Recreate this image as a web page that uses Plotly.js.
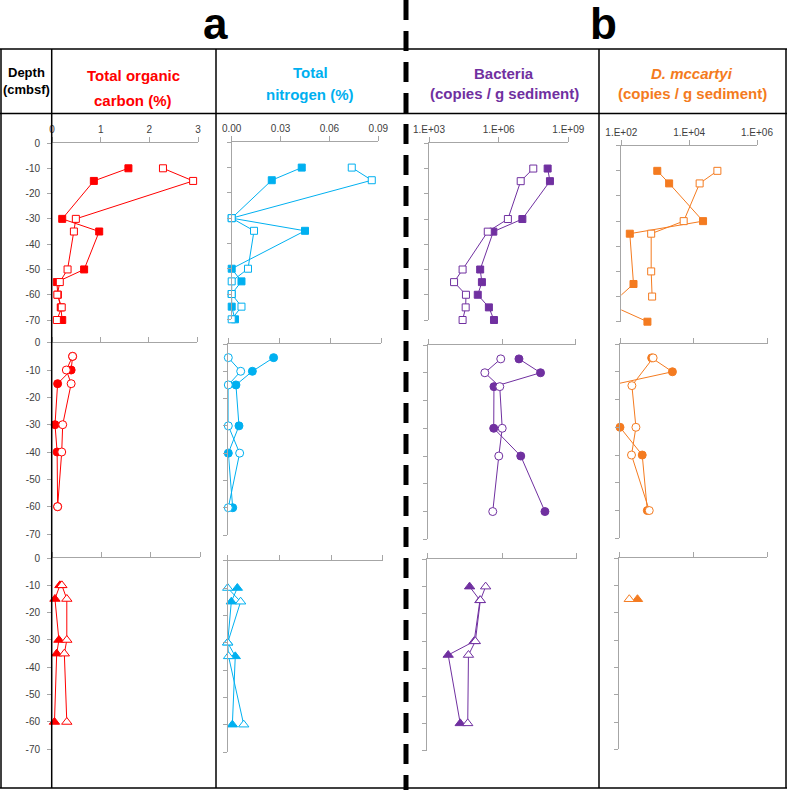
<!DOCTYPE html>
<html>
<head>
<meta charset="utf-8">
<script src="https://cdn.plot.ly/plotly-3.0.1.min.js"></script>
<style>html,body{margin:0;padding:0;background:#fff;}#chart{width:787px;height:790px;}</style>
</head>
<body>
<div id="chart"></div>
<script>
// ---------------- DATA ----------------
// Depths (cmbsf) for each core (row)
const depthRow1 = [-10, -15, -30, -35, -50, -55, -60, -65, -70];
const depthRow2 = [-5, -10, -15, -30, -40, -60];
const depthRow3 = [-10, -15, -30, -35, -60];

// Row 1 (squares)
const tocRow1Filled = [1.57, 0.86, 0.21, 0.97, 0.66, 0.10, 0.12, 0.18, 0.21];
const tocRow1Open   = [2.28, 2.90, 0.49, 0.45, 0.32, 0.16, 0.11, 0.20, 0.10];
const tnRow1Filled  = [0.043, 0.0246, 0.000, 0.045, 0.000, 0.006, 0.000, 0.000, 0.002];
const tnRow1Open    = [0.0737, 0.086, 0.000, 0.0137, 0.010, 0.000, 0.000, 0.006, 0.000];
const bacRow1Filled = [1.29e8, 1.62e8, 1.05e7, 5.9e5, 1.6e5, 1.9e5, 1.26e5, 3.8e5, 6.3e5];
const bacRow1Open   = [3.1e7, 8.9e6, 2.5e6, 3.4e5, 2.8e4, 1.2e4, 3.9e4, 3.8e4, 2.8e4];
const dmcRow1Filled = [1150, 2570, 2.57e4, 178, null, 229, 89, 89, 589];
const dmcRow1Open   = [6.8e4, 2.04e4, 6900, 760, 760, null, 810, null, null];

// Row 2 (circles)
const tocRow2Filled = [0.42, 0.39, 0.11, 0.056, 0.10, 0.11];
const tocRow2Open   = [0.42, 0.29, 0.39, 0.215, 0.195, 0.11];
const tnRow2Filled  = [0.0267, 0.0142, 0.0045, 0.0063, 0.000, 0.0026];
const tnRow2Open    = [0.000, 0.0073, 0.000, 0.000, 0.0067, 0.000];
const bacRow2Filled = [4.9e6, 3.7e7, 4.7e5, 4.6e5, 5.8e6, 5.6e7];
const bacRow2Open   = [8.9e5, 2.0e5, 8.1e5, 1.02e6, 7.4e5, 4.2e5];
const dmcRow2Filled = [720, 2630, 50, 100, 400, 550];
const dmcRow2Open   = [790, null, 210, 270, 205, 620];

// Row 3 (triangles)
const tocRow3Filled = [0.16, 0.06, 0.14, 0.095, 0.05];
const tocRow3Open   = [0.20, 0.30, 0.30, 0.25, 0.30];
const tnRow3Filled  = [0.0056, 0.0021, 0.000, 0.0044, 0.0027];
const tnRow3Open    = [0.000, 0.0075, 0.000, 0.0005, 0.0093];
const bacRow3Filled = [5.0e4, 1.3e5, 7.6e4, 6.9e3, 2.1e4];
const bacRow3Open   = [2.2e5, 1.35e5, 8.5e4, 4.5e4, 4.2e4];
const dmcRow3Filled = [null, 310, null, null, null];
const dmcRow3Open   = [null, 186, null, null, null];

// Tick labels
const depthTicks = [0, -10, -20, -30, -40, -50, -60, -70];
const depthTickText = ['0', '-10', '-20', '-30', '-40', '-50', '-60', '-70'];
const tocTicks = [0, 1, 2, 3];
const tocTickText = ['0', '1', '2', '3'];
const tnTicks = [0, 0.03, 0.06, 0.09];
const tnTickText = ['0.00', '0.03', '0.06', '0.09'];
const bacTicks = [1e3, 1e6, 1e9];
const bacTickText = ['1.E+03', '1.E+06', '1.E+09'];
const dmcTicks = [1e2, 1e4, 1e6];
const dmcTickText = ['1.E+02', '1.E+04', '1.E+06'];

// Header labels
const headerDepth = ['Depth', '(cmbsf)'];
const headerToc = ['Total organic', 'carbon (%)'];
const headerTn = ['Total', 'nitrogen (%)'];
const headerBac = ['Bacteria', '(copies / g sediment)'];
const headerDmc = ['<i>D. mccartyi</i>', '(copies / g sediment)'];
const panelLetters = ['a', 'b'];

// ---------------- STYLE / LAYOUT ----------------
const W = 787, H = 790;
const colors = {toc: '#FF0000', tn: '#00B0F0', bac: '#7030A0', dmc: '#F47B20'};
const axisCfg = {
  toc: {type: 'linear', range: [0, 3], tickvals: tocTicks, ticktext: tocTickText},
  tn:  {type: 'linear', range: [0, 0.09], tickvals: tnTicks, ticktext: tnTickText},
  bac: {type: 'log', range: [3, 9], tickvals: bacTicks, ticktext: bacTickText},
  dmc: {type: 'log', range: [2, 6], tickvals: dmcTicks, ticktext: dmcTickText}
};
const rows = [
  {depth: depthRow1, symbol: 'square', size: 7,
   data: {toc: [tocRow1Filled, tocRow1Open], tn: [tnRow1Filled, tnRow1Open], bac: [bacRow1Filled, bacRow1Open], dmc: [dmcRow1Filled, dmcRow1Open]},
   geo: {toc: [52, 198, 143, 320], tn: [231.7, 378.3, 142.3, 319.3], bac: [429, 568.3, 143.3, 320], dmc: [621.3, 757, 145.7, 321.7]}},
  {depth: depthRow2, symbol: 'circle', size: 8,
   data: {toc: [tocRow2Filled, tocRow2Open], tn: [tnRow2Filled, tnRow2Open], bac: [bacRow2Filled, bacRow2Open], dmc: [dmcRow2Filled, dmcRow2Open]},
   geo: {toc: [52.3, 197.3, 342.7, 534], tn: [228.3, 381, 344, 535], bac: [428.3, 575.7, 345, 539.3], dmc: [620, 767.7, 344, 538.3]}},
  {depth: depthRow3, symbol: 'triangle-up', size: 9,
   data: {toc: [tocRow3Filled, tocRow3Open], tn: [tnRow3Filled, tnRow3Open], bac: [bacRow3Filled, bacRow3Open], dmc: [dmcRow3Filled, dmcRow3Open]},
   geo: {toc: [52, 200, 558, 749.3], tn: [227.7, 382.7, 560.7, 752], bac: [427.3, 576.7, 559.3, 750.7], dmc: [619.3, 767.3, 558.3, 749.3]}}
];
const cols = ['toc', 'tn', 'bac', 'dmc'];

const layout = {
  width: W, height: H, margin: {l: 0, r: 0, t: 0, b: 0},
  paper_bgcolor: '#fff', plot_bgcolor: 'rgba(0,0,0,0)',
  showlegend: false, hovermode: false,
  font: {family: 'Liberation Sans, Arial, sans-serif', color: '#404040'},
  annotations: [], shapes: []
};
const traces = [];
const tickFont = {family: 'Liberation Sans, Arial, sans-serif', size: 10, color: '#404040'};
const gray = '#A6A6A6';

let n = 0;
rows.forEach((row, ri) => {
  cols.forEach((c) => {
    n++;
    const xa = 'xaxis' + (n === 1 ? '' : n), ya = 'yaxis' + (n === 1 ? '' : n);
    const xr = 'x' + (n === 1 ? '' : n), yr = 'y' + (n === 1 ? '' : n);
    const g = row.geo[c];
    const cfg = axisCfg[c];
    layout[xa] = {
      type: cfg.type, range: cfg.range, autorange: false,
      domain: [g[0] / W, g[1] / W], anchor: yr, side: 'top',
      showline: true, linecolor: gray, linewidth: 1, mirror: false,
      ticks: 'outside', ticklen: 5, tickcolor: gray, tickwidth: 1,
      tickmode: 'array', tickvals: cfg.tickvals, ticktext: cfg.ticktext,
      showticklabels: ri === 0, tickfont: tickFont,
      showgrid: false, zeroline: false, fixedrange: true
    };
    layout[ya] = {
      range: [-70, 0], autorange: false,
      domain: [1 - g[3] / H, 1 - g[2] / H], anchor: xr,
      showline: true, linecolor: gray, linewidth: 1,
      ticks: 'outside', ticklen: 4, tickcolor: gray, tickwidth: 1,
      tickmode: 'array', tickvals: depthTicks, ticktext: depthTickText,
      showticklabels: c === 'toc', tickfont: tickFont, ticklabelstandoff: 5,
      showgrid: false, zeroline: false, fixedrange: true
    };
    const minVal = cfg.type === 'log' ? Math.pow(10, cfg.range[0]) : cfg.range[0];
    const maxVal = cfg.type === 'log' ? Math.pow(10, cfg.range[1]) : cfg.range[1];
    const series = row.data[c];
    // lines (clipped to plot area)
    series.forEach((vals) => {
      traces.push({
        type: 'scatter', mode: 'lines', x: vals, y: row.depth, xaxis: xr, yaxis: yr,
        connectgaps: true, cliponaxis: true,
        line: {color: colors[c], width: 1}
      });
    });
    // markers (only those within the axis range; not clipped)
    series.forEach((vals, si) => {
      const mx = vals.map(v => (v === null || v < minVal - 1e-12 || v > maxVal) ? null : v);
      traces.push({
        type: 'scatter', mode: 'markers', x: mx, y: row.depth, xaxis: xr, yaxis: yr,
        cliponaxis: false,
        marker: {symbol: row.symbol, size: row.size,
                 color: si === 0 ? colors[c] : '#FFFFFF',
                 line: {color: colors[c], width: 1}}
      });
    });
  });
});

// header text
function addText(txt, x, y, size, color, opts) {
  layout.annotations.push(Object.assign({
    text: txt, x: x / W, y: 1 - y / H, xref: 'paper', yref: 'paper',
    xanchor: 'center', yanchor: 'middle', showarrow: false,
    font: {family: 'Liberation Sans, Arial, sans-serif', size: size, color: color}
  }, opts || {}));
}
addText('<b>' + headerDepth[0] + '</b>', 26, 72, 13, '#000000');
addText('<b>' + headerDepth[1] + '</b>', 26, 89, 13, '#000000');
addText('<b>' + headerToc[0] + '</b>', 133, 75, 15, colors.toc);
addText('<b>' + headerToc[1] + '</b>', 133, 100, 15, colors.toc);
addText('<b>' + headerTn[0] + '</b>', 310, 72, 15, colors.tn);
addText('<b>' + headerTn[1] + '</b>', 310, 95, 15, colors.tn);
addText('<b>' + headerBac[0] + '</b>', 504, 73, 15, colors.bac);
addText('<b>' + headerBac[1] + '</b>', 504, 94, 15, colors.bac);
addText('<b>' + headerDmc[0] + '</b>', 692, 73, 15, colors.dmc);
addText('<b>' + headerDmc[1] + '</b>', 692, 94, 15, colors.dmc);
addText('<b>' + panelLetters[0] + '</b>', 215, 23, 44, '#000000');
addText('<b>' + panelLetters[1] + '</b>', 603, 23, 44, '#000000');

// table frame
function hline(y, x0, x1, w) {
  layout.shapes.push({type: 'line', xref: 'paper', yref: 'paper', x0: x0 / W, x1: x1 / W,
    y0: 1 - y / H, y1: 1 - y / H, line: {color: '#000', width: w || 1.5}, layer: 'above'});
}
function vline(x, y0, y1, w, dash) {
  layout.shapes.push({type: 'line', xref: 'paper', yref: 'paper', x0: x / W, x1: x / W,
    y0: 1 - y0 / H, y1: 1 - y1 / H, line: {color: '#000', width: w || 1.5, dash: dash || 'solid'}, layer: 'above'});
}
hline(49, 0, 787);
hline(113.5, 0, 787);
hline(788, 0, 787);
vline(1, 49, 788);
vline(786, 49, 788);
vline(51.7, 49, 788);
vline(216, 49, 788);
vline(599, 49, 788);
vline(406, 0, 790, 5, '20px,11px');

Plotly.newPlot('chart', traces, layout, {staticPlot: true, displayModeBar: false});
</script>
</body>
</html>
